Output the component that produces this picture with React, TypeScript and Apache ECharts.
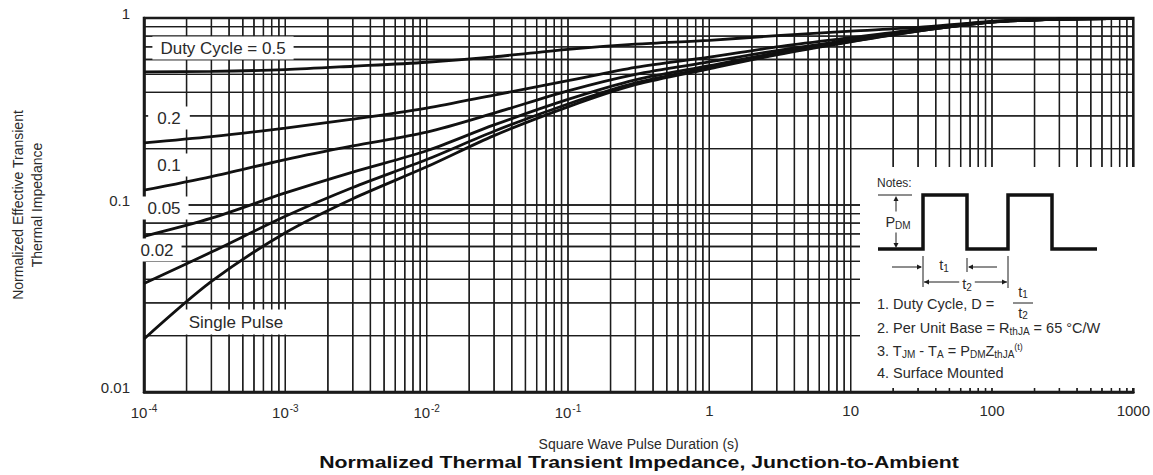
import React, { useEffect, useRef } from "react";
import * as echarts from "echarts";

// ---- data ----
const pulseDuration = [1e-4, 3e-4, 1e-3, 3e-3, 1e-2, 3e-2, 0.1, 0.3, 1, 3, 10, 30, 100, 300, 1000];
const duty05 = [0.515, 0.518, 0.53, 0.552, 0.58, 0.62, 0.68, 0.725, 0.76, 0.805, 0.85, 0.89, 0.96, 0.985, 0.995];
const duty02 = [0.215, 0.232, 0.258, 0.288, 0.33, 0.387, 0.462, 0.545, 0.618, 0.7, 0.785, 0.87, 0.955, 0.985, 0.995];
const duty01 = [0.12, 0.142, 0.175, 0.207, 0.245, 0.31, 0.408, 0.5, 0.582, 0.67, 0.765, 0.86, 0.953, 0.985, 0.995];
const duty005 = [0.068, 0.085, 0.116, 0.15, 0.195, 0.268, 0.367, 0.467, 0.556, 0.652, 0.755, 0.855, 0.952, 0.985, 0.995];
const duty002 = [0.038, 0.056, 0.087, 0.124, 0.175, 0.248, 0.347, 0.45, 0.543, 0.641, 0.75, 0.852, 0.951, 0.985, 0.995];
const singlePulse = [0.0192, 0.039, 0.071, 0.108, 0.16, 0.235, 0.335, 0.44, 0.535, 0.635, 0.745, 0.85, 0.95, 0.985, 0.995];

const curveNames = ["0.5", "0.2", "0.1", "0.05", "0.02", "Single Pulse"];
const curveValues = [duty05, duty02, duty01, duty005, duty002, singlePulse];

const xTickExponents = [-4, -3, -2, -1, 0, 1, 2, 3];
const xTickLabels = ["{b|10}{s|-4}", "{b|10}{s|-3}", "{b|10}{s|-2}", "{b|10}{s|-1}", "{b|1}", "{b|10}", "{b|100}", "{b|1000}"];
const yTickExponents = [-2, -1, 0];
const yTickLabels = ["0.01", "0.1", "1"];

const xDecades = [-4, -3, -2, -1, 0, 1, 2];
const yDecades = [-2, -1];
const gridMultipliers = [1, 2, 3, 4, 5, 6, 7, 8, 9];

const X_MIN = 1e-4;
const X_MAX = 1000;
const Y_MIN = 0.01;
const Y_MAX = 1;

const FONT = "'Liberation Sans', Arial, Helvetica, sans-serif";
const INK = "#1c1c1c";
const TEXT = "#2a2a2a";

function gridValues(decades: number[], top: number) {
  const out: number[] = [];
  decades.forEach((d) => gridMultipliers.forEach((m) => out.push(m * Math.pow(10, d))));
  out.push(Math.pow(10, top));
  return out;
}

function arrow(x: number, y: number, dir: "l" | "r" | "u" | "d") {
  const s = 5;
  const w = 2.5;
  let pts: number[][] = [];
  if (dir === "r") pts = [[x, y], [x - s, y - w], [x - s, y + w]];
  if (dir === "l") pts = [[x, y], [x + s, y - w], [x + s, y + w]];
  if (dir === "u") pts = [[x, y], [x - w, y + s], [x + w, y + s]];
  if (dir === "d") pts = [[x, y], [x - w, y - s], [x + w, y - s]];
  return { type: "polygon", shape: { points: pts }, style: { fill: INK }, z: 102 };
}

function seg(x1: number, y1: number, x2: number, y2: number, w = 1) {
  return { type: "line", shape: { x1, y1, x2, y2 }, style: { stroke: INK, lineWidth: w }, z: 101 };
}

function txt(text: string, x: number, y: number, opts: any = {}) {
  const size = opts.size || 14.5;
  const weight = opts.weight || "normal";
  const style: any = {
    text,
    fill: opts.fill || TEXT,
    font: `${weight} ${size}px ${FONT}`,
    fontSize: size,
    fontFamily: FONT,
    fontWeight: weight,
    align: opts.align || "left",
    textAlign: opts.align || "left",
    verticalAlign: "middle",
    textVerticalAlign: "middle",
  };
  if (opts.bg) style.backgroundColor = opts.bg;
  if (opts.padding) style.padding = opts.padding;
  if (opts.rich) style.rich = opts.rich;
  const el: any = { type: "text", x, y, z: 103, style };
  if (opts.scaleX) el.scaleX = opts.scaleX;
  return el;
}

const subRich = {
  n: { fontSize: 14.5, fontFamily: FONT, fill: TEXT, color: TEXT },
  d: { fontSize: 10, fontFamily: FONT, fill: TEXT, color: TEXT, padding: [7, 0, 0, 0] },
  f: { fontSize: 10, fontFamily: FONT, fill: TEXT, color: TEXT, padding: [5, 0, 0, 0] },
  u: { fontSize: 9, fontFamily: FONT, fill: TEXT, color: TEXT, padding: [0, 0, 8, 0] },
};

export default function App() {
  const ref = useRef<HTMLDivElement>(null);

  useEffect(() => {
    const chart = echarts.init(ref.current!, null, { renderer: "svg" });

    const vValues = gridValues(xDecades, 3);
    const hValues = gridValues(yDecades, 0);

    const curveSeries = curveNames.map((name, i) => ({
      name,
      type: "line",
      data: pulseDuration.map((x, j) => [x, curveValues[i][j]]),
      showSymbol: false,
      smooth: 0.3,
      lineStyle: { color: "#111", width: 2.8 },
      z: 5,
    }));

    const gridSeries = [
      {
        type: "custom",
        data: vValues.map((v) => [v, Y_MIN]),
        renderItem: (_p: any, api: any) => {
          const v = api.value(0);
          const a = api.coord([v, Y_MIN]);
          const b = api.coord([v, Y_MAX]);
          return { type: "line", shape: { x1: a[0], y1: a[1], x2: b[0], y2: b[1] }, style: { stroke: INK, lineWidth: 1.3 } };
        },
      },
      {
        type: "custom",
        data: hValues.map((v) => [X_MIN, v]),
        renderItem: (_p: any, api: any) => {
          const v = api.value(1);
          const a = api.coord([X_MIN, v]);
          const b = api.coord([X_MAX, v]);
          return { type: "line", shape: { x1: a[0], y1: a[1], x2: b[0], y2: b[1] }, style: { stroke: INK, lineWidth: 1.3 } };
        },
      },
    ];

    chart.setOption({
      animation: false,
      backgroundColor: "#fff",
      grid: {
        left: 136,
        right: 13,
        top: 18,
        bottom: 83,
        show: true,
        borderColor: "#111",
        borderWidth: 2.5,
      },
      xAxis: {
        type: "log",
        logBase: 10,
        min: X_MIN,
        max: X_MAX,
        interval: 1,
        name: "Square Wave Pulse Duration (s)",
        nameLocation: "middle",
        nameGap: 45,
        nameTextStyle: { fontSize: 14, fontFamily: FONT, color: TEXT },
        axisLine: { show: true, lineStyle: { color: "#111", width: 2.5 } },
        axisTick: { show: false },
        splitLine: { show: false },
        axisLabel: {
          margin: 11,
          color: TEXT,
          fontFamily: FONT,
          formatter: (v: number) => {
            const e = Math.round(Math.log10(v));
            const i = xTickExponents.indexOf(e);
            return i >= 0 ? xTickLabels[i] : "";
          },
          rich: {
            b: { fontSize: 15, fontFamily: FONT, color: TEXT },
            s: { fontSize: 10, fontFamily: FONT, color: TEXT, padding: [0, 0, 8, 1] },
          },
        },
      },
      yAxis: {
        type: "log",
        logBase: 10,
        min: Y_MIN,
        max: Y_MAX,
        interval: 1,
        name: "Normalized Effective Transient\nThermal Impedance",
        nameLocation: "middle",
        nameGap: 98,
        nameRotate: 90,
        nameTextStyle: { fontSize: 14, fontFamily: FONT, color: TEXT, lineHeight: 19 },
        axisLine: { show: true, lineStyle: { color: "#111", width: 2.5 } },
        axisTick: { show: false },
        splitLine: { show: false },
        axisLabel: {
          margin: 14,
          fontSize: 15,
          fontFamily: FONT,
          color: TEXT,
          verticalAlign: "bottom",
          lineHeight: 10,
          formatter: (v: number) => {
            const e = Math.round(Math.log10(v));
            const i = yTickExponents.indexOf(e);
            return i >= 0 ? yTickLabels[i] : "";
          },
        },
      },
      series: [...gridSeries, ...curveSeries],
    });

    // grid lines placed through the axes' own scales
    const gridGraphic: any[] = [];
    vValues.forEach((v) => {
      const a = chart.convertToPixel({ gridIndex: 0 }, [v, Y_MIN]) as number[];
      const b = chart.convertToPixel({ gridIndex: 0 }, [v, Y_MAX]) as number[];
      if (a && b && isFinite(a[0])) {
        gridGraphic.push({ type: "line", z: 3, shape: { x1: a[0], y1: a[1], x2: b[0], y2: b[1] }, style: { stroke: INK, lineWidth: 1.3 } });
      }
    });
    hValues.forEach((v) => {
      const a = chart.convertToPixel({ gridIndex: 0 }, [X_MIN, v]) as number[];
      const b = chart.convertToPixel({ gridIndex: 0 }, [X_MAX, v]) as number[];
      if (a && b && isFinite(a[1])) {
        gridGraphic.push({ type: "line", z: 3, shape: { x1: a[0], y1: a[1], x2: b[0], y2: b[1] }, style: { stroke: INK, lineWidth: 1.3 } });
      }
    });

    const notes: any[] = [
      { type: "rect", shape: { x: 860, y: 167, width: 277, height: 221 }, style: { fill: "#fff" }, z: 100 },
      txt("Notes:", 877, 183, { size: 12 }),
      {
        type: "polyline",
        shape: {
          points: [[878, 249], [923, 249], [923, 195], [967, 195], [967, 249], [1008, 249], [1008, 195], [1052, 195], [1052, 249], [1097, 249]],
        },
        style: { stroke: "#111", lineWidth: 3.5, fill: null },
        z: 101,
      },
      seg(878, 195, 912, 195),
      seg(896, 198, 896, 246),
      arrow(896, 196, "u"),
      arrow(896, 248, "d"),
      txt("{n|P}{d|DM}", 898, 222, { align: "center", bg: "#fff", padding: [2, 1], rich: subRich }),
      seg(892, 267, 921, 267),
      arrow(922, 267, "r"),
      seg(923, 256, 923, 287),
      txt("{n|t}{d|1}", 944, 265, { align: "center", rich: subRich }),
      seg(967, 258, 967, 272),
      seg(969, 267, 997, 267),
      arrow(968, 267, "l"),
      seg(924, 282, 1007, 282),
      arrow(924, 282, "l"),
      arrow(1007, 282, "r"),
      seg(1008, 256, 1008, 288),
      txt("{n|t}{d|2}", 967, 284, { align: "center", bg: "#fff", padding: [0, 3], rich: subRich }),
      txt("1. Duty Cycle, D =", 877, 304),
      txt("{n|t}{f|1}", 1023, 292, { align: "center", rich: subRich }),
      seg(1013, 303, 1033, 303),
      txt("{n|t}{f|2}", 1023, 313, { align: "center", rich: subRich }),
      txt("{n|2. Per Unit Base = R}{d|thJA}{n| = 65 °C/W}", 877, 328, { rich: subRich }),
      txt("{n|3. T}{d|JM}{n| - T}{d|A}{n| = P}{d|DM}{n|Z}{d|thJA}{u|(t)}", 877, 351, { rich: subRich }),
      txt("4. Surface Mounted", 877, 373),
    ];

    const labels: any[] = [
      txt("Duty Cycle = 0.5", 223, 48, { size: 17, align: "center", bg: "#fff", padding: [3, 8] }),
      txt("0.2", 169, 118, { size: 17, align: "center", bg: "#fff", padding: [3, 9] }),
      txt("0.1", 169, 165, { size: 17, align: "center", bg: "#fff", padding: [3, 9] }),
      txt("0.05", 164, 208, { size: 17, align: "center", bg: "#fff", padding: [3, 8] }),
      txt("0.02", 157, 250, { size: 17, align: "center", bg: "#fff", padding: [3, 8] }),
      txt("Single Pulse", 236, 322, { size: 17, align: "center", bg: "#fff", padding: [4, 8] }),
      txt("Normalized Thermal Transient Impedance, Junction-to-Ambient", 639, 462, {
        size: 17,
        weight: "bold",
        align: "center",
        fill: "#111",
        scaleX: 1.25,
      }),
    ];

    chart.setOption({ graphic: [...gridGraphic, ...labels, ...notes] });

    return () => chart.dispose();
  }, []);

  return (
    <div
      ref={ref}
      style={{ position: "fixed", left: 0, top: 0, width: 1153, height: 475, background: "#fff" }}
    />
  );
}
